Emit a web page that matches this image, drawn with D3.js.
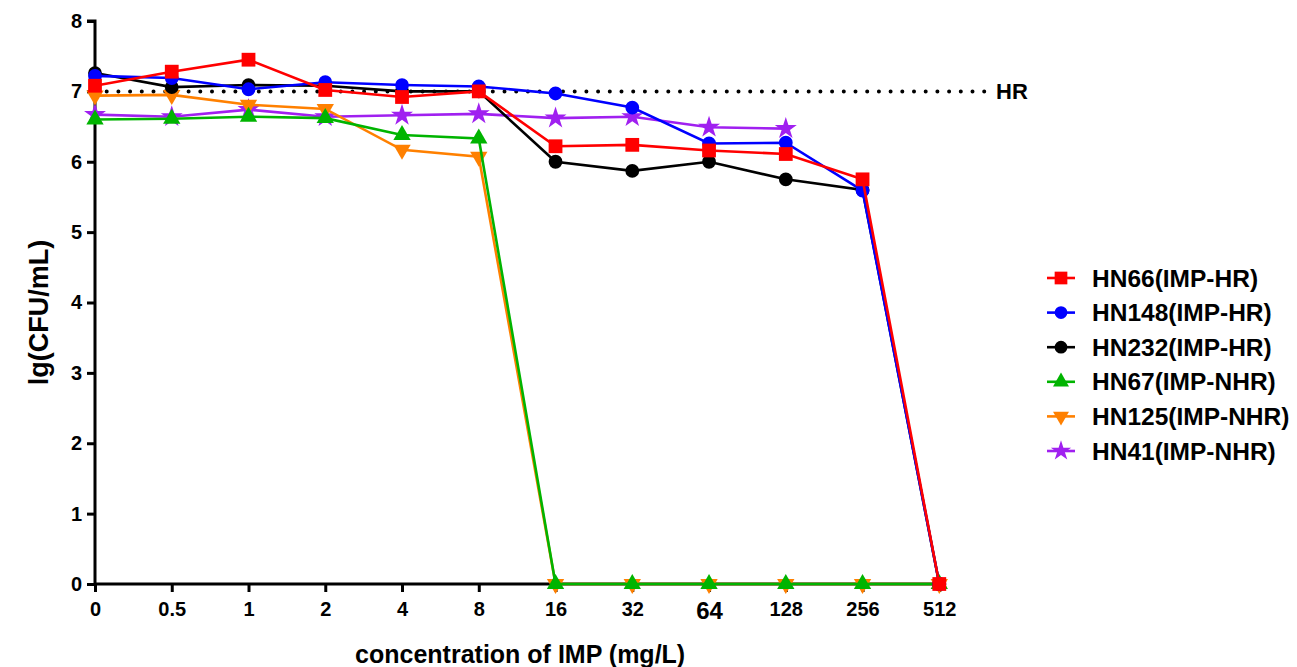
<!DOCTYPE html>
<html>
<head>
<meta charset="utf-8">
<script src="https://cdn.jsdelivr.net/npm/d3@7"></script>
<style>
  body { margin: 0; background: #fff; }
  svg text { font-family: "Liberation Sans", Arial, sans-serif; font-weight: bold; }
</style>
</head>
<body>
<div id="chart"></div>
<script>
// categories on the x axis (evenly spaced)
const concentrations = ["0", "0.5", "1", "2", "4", "8", "16", "32", "64", "128", "256", "512"];

// lg(CFU/mL) per strain, null = no point
const hn66  = [7.08, 7.28, 7.45, 7.02, 6.92, 7.00, 6.22, 6.24, 6.16, 6.11, 5.75, 0];
const hn148 = [7.22, 7.19, 7.03, 7.13, 7.09, 7.07, 6.97, 6.77, 6.26, 6.27, 5.59, 0];
const hn232 = [7.26, 7.06, 7.09, 7.08, 7.00, 7.00, 6.00, 5.87, 6.00, 5.75, 5.60, 0];
const hn67  = [6.60, 6.61, 6.64, 6.62, 6.38, 6.33, 0, 0, 0, 0, 0, 0];
const hn125 = [6.94, 6.95, 6.81, 6.75, 6.17, 6.07, 0, 0, 0, 0, 0, 0];
const hn41  = [6.67, 6.64, 6.74, 6.64, 6.66, 6.68, 6.62, 6.64, 6.49, 6.47, null, null];

const seriesNames = ["HN66(IMP-HR)", "HN148(IMP-HR)", "HN232(IMP-HR)", "HN67(IMP-NHR)", "HN125(IMP-NHR)", "HN41(IMP-NHR)"];
const seriesColors = ["#ff0000", "#0000ff", "#000000", "#00b400", "#ff8000", "#a020f0"];
const seriesValues = [hn66, hn148, hn232, hn67, hn125, hn41];
const seriesSymbols = [d3.symbolSquare, d3.symbolCircle, d3.symbolCircle, d3.symbolTriangle, "down", d3.symbolStar];

const hrThreshold = 7;
const yTicks = [0, 1, 2, 3, 4, 5, 6, 7, 8];

const W = 1297, H = 667;
const margin = { top: 21, left: 95 };
const plotW = 939.3 - 95, plotH = 584 - 21;

const svg = d3.select("#chart").append("svg")
    .attr("width", W).attr("height", H);
const g = svg.append("g").attr("transform", "translate(" + margin.left + "," + margin.top + ")");

const x = d3.scalePoint().domain(concentrations).range([0, plotW]);
const y = d3.scaleLinear().domain([0, 8]).range([plotH, 0]);

function symbolPath(sym, size) {
    if (sym === "down") {
        return d3.symbol().type(d3.symbolTriangle).size(size)();
    }
    return d3.symbol().type(sym).size(size)();
}
function symbolTransform(sym, px, py) {
    return "translate(" + px + "," + py + ")" + (sym === "down" ? " rotate(180)" : "");
}
const symbolSizes = [190, 150, 150, 130, 130, 150];

// HR dotted line
g.append("line")
    .attr("x1", 0).attr("x2", 890)
    .attr("y1", y(hrThreshold)).attr("y2", y(hrThreshold))
    .attr("stroke", "#000").attr("stroke-width", 4)
    .attr("stroke-linecap", "round")
    .attr("stroke-dasharray", "0 11.7");
g.append("text")
    .attr("x", 901).attr("y", y(hrThreshold) + 8)
    .attr("font-size", 22).text("HR");

// axes
const yAxis = g.append("g")
    .call(d3.axisLeft(y).tickValues(yTicks).tickSize(8).tickPadding(5).tickFormat(d3.format("d")));
const xAxis = g.append("g").attr("transform", "translate(0," + plotH + ")")
    .call(d3.axisBottom(x).tickSize(8).tickPadding(10));
[yAxis, xAxis].forEach(a => {
    a.select(".domain").attr("stroke", "#000").attr("stroke-width", 3);
    a.selectAll(".tick line").attr("stroke", "#000").attr("stroke-width", 3);
    a.selectAll(".tick text").attr("fill", "#000").attr("font-size", 20)
        .attr("font-family", "'Liberation Sans', Arial, sans-serif").attr("font-weight", "bold");
});
yAxis.select(".domain").attr("d", "M0," + plotH + "V0H-8");
xAxis.select(".domain").attr("d", "M0,0H" + plotW);
// the "64" label is drawn larger in the original
xAxis.selectAll(".tick text").filter(d => d === "64").attr("font-size", 24);

// series, drawn last-to-first so HN66 ends on top
const line = d3.line()
    .defined(d => d.v !== null)
    .x(d => x(d.c)).y(d => y(d.v));

for (let i = seriesValues.length - 1; i >= 0; --i) {
    const pts = concentrations.map((c, j) => ({ c: c, v: seriesValues[i][j] }));
    const sg = g.append("g");
    sg.append("path")
        .datum(pts)
        .attr("fill", "none")
        .attr("stroke", seriesColors[i])
        .attr("stroke-width", 2.6)
        .attr("d", line);
    sg.selectAll("path.pt")
        .data(pts.filter(d => d.v !== null))
        .enter().append("path")
        .attr("class", "pt")
        .attr("d", symbolPath(seriesSymbols[i], symbolSizes[i]))
        .attr("transform", d => symbolTransform(seriesSymbols[i], x(d.c), y(d.v)))
        .attr("fill", seriesColors[i]);
}

// axis titles
svg.append("text")
    .attr("transform", "translate(48," + (margin.top + plotH / 2 + 10) + ") rotate(-90)")
    .attr("text-anchor", "middle").attr("font-size", 27)
    .text("lg(CFU/mL)");
svg.append("text")
    .attr("x", margin.left + plotW / 2 + 3).attr("y", 663)
    .attr("text-anchor", "middle").attr("font-size", 25)
    .text("concentration of IMP (mg/L)");

// legend
const legend = svg.append("g").attr("transform", "translate(1047,278)");
seriesNames.forEach((name, i) => {
    const row = legend.append("g").attr("transform", "translate(0," + (i * 34.6) + ")");
    row.append("line").attr("x1", 0).attr("x2", 28)
        .attr("stroke", seriesColors[i]).attr("stroke-width", 2.6);
    row.append("path")
        .attr("d", symbolPath(seriesSymbols[i], symbolSizes[i] * 0.85))
        .attr("transform", symbolTransform(seriesSymbols[i], 14, 0))
        .attr("fill", seriesColors[i]);
    row.append("text").attr("x", 45).attr("y", 8.5)
        .attr("font-size", 24.5).text(name);
});
</script>
</body>
</html>
